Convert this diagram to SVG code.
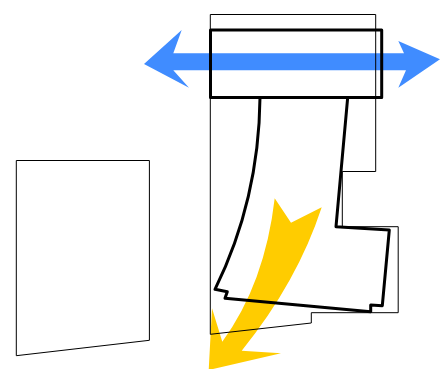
<svg xmlns="http://www.w3.org/2000/svg" width="441" height="369" viewBox="0 0 441 369">
<style>
.thin{fill:none;stroke:#000;stroke-width:1}
.bold{fill:none;stroke:#000;stroke-width:3;stroke-linejoin:round}
</style>
<rect width="441" height="369" fill="#fff"/>
<path d="M274.7 198.3L291 222.7L321.7 207.3Q297.3 282 241.7 350.7L281 353.3L208.7 370L212 308.3L222.3 341.7Q264.9 283.4 274.7 198.3Z" fill="#ffcc00"/>
<path d="M144 64L181.7 30L173.3 53.3H404L398.3 41L440 59.3L398.3 87.7L406 70.3H173.3L189 87.7Z" fill="#408cff"/>
<path class="thin" d="M16.3 160.5H149.4V340.3L16.3 355.7Z"/>
<path class="thin" d="M210.3 14.5H375.7V171.5H342.3V226.7H398.2V312.7H311.3V323L210.3 334.3Z"/>
<rect class="bold" x="210.5" y="30" width="171.2" height="67.4"/>
<path class="bold" d="M260 97.4Q259 200 215 289.3L227.3 291.7L225 298.3L370.7 311.7L370.7 305L382.3 305.7L389.3 230L336 226.7L347.7 97.4"/>
</svg>
